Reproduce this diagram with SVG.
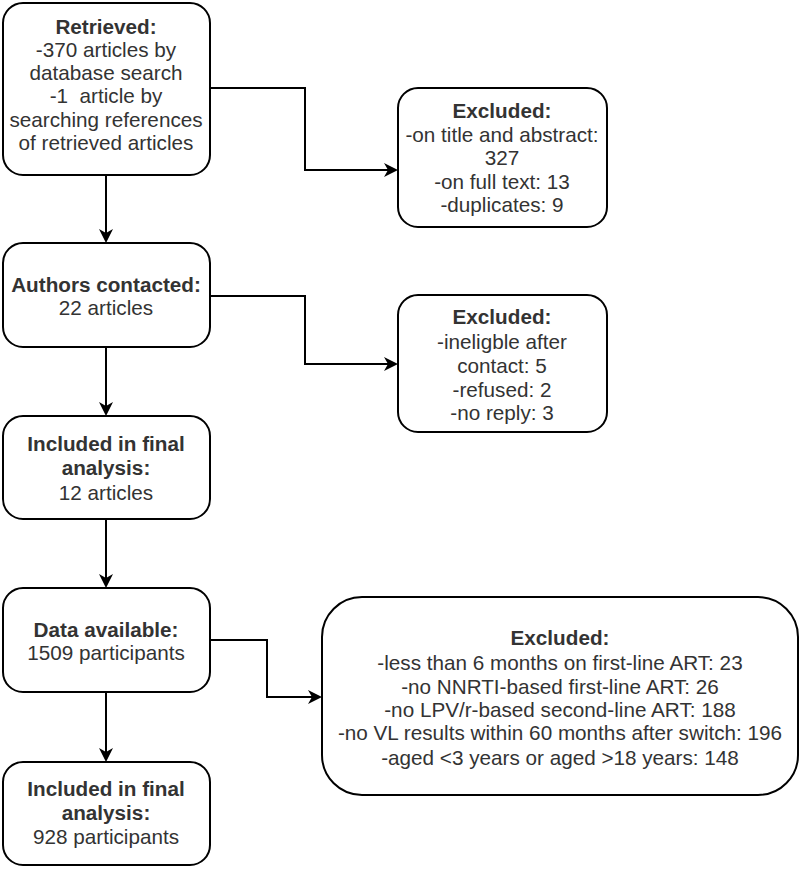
<svg xmlns="http://www.w3.org/2000/svg" width="800" height="869" viewBox="0 0 800 869">
<style>
.box{fill:#fff;stroke:#000;stroke-width:2}
.t{font-family:"Liberation Sans",Arial,sans-serif;font-size:20.7px;fill:#333;text-anchor:middle}
.b{font-weight:bold}
.c{fill:none;stroke:#000;stroke-width:2}
</style>
<defs>
<marker id="ah" markerWidth="14" markerHeight="14" refX="12" refY="7" orient="auto" markerUnits="userSpaceOnUse">
<path d="M0,0 L14,7 L0,14 L4,7 Z" fill="#000"/>
</marker>
</defs>
<rect width="800" height="869" fill="#fff"/>
<g id="connectors">
<path class="c" d="M106,175 V241" marker-end="url(#ah)"/>
<path class="c" d="M210,88 H305 V170 H396" marker-end="url(#ah)"/>
<path class="c" d="M106,347 V414" marker-end="url(#ah)"/>
<path class="c" d="M210,296 H305 V364 H396" marker-end="url(#ah)"/>
<path class="c" d="M106,519 V586" marker-end="url(#ah)"/>
<path class="c" d="M106,692 V760" marker-end="url(#ah)"/>
<path class="c" d="M210,640 H267 V697 H320" marker-end="url(#ah)"/>
</g>
<g id="retrieved">
<rect class="box" x="3" y="3" width="207" height="172" rx="20"/>
<text class="t b" x="106" y="34">Retrieved:</text>
<text class="t" x="106" y="57">-370 articles by</text>
<text class="t" x="106" y="80">database search</text>
<text class="t" x="106" y="103" xml:space="preserve">-1  article by</text>
<text class="t" x="106" y="127">searching references</text>
<text class="t" x="106" y="150">of retrieved articles</text>
</g>
<g id="excluded1">
<rect class="box" x="398" y="88" width="209" height="139" rx="20"/>
<text class="t b" x="502" y="118">Excluded:</text>
<text class="t" x="502" y="142">-on title and abstract:</text>
<text class="t" x="502" y="165">327</text>
<text class="t" x="502" y="189">-on full text: 13</text>
<text class="t" x="502" y="212">-duplicates: 9</text>
</g>
<g id="authors">
<rect class="box" x="3" y="243" width="207" height="104" rx="20"/>
<text class="t b" x="106" y="292">Authors contacted:</text>
<text class="t" x="106" y="315">22 articles</text>
</g>
<g id="excluded2">
<rect class="box" x="398" y="295" width="209" height="137" rx="20"/>
<text class="t b" x="502" y="324">Excluded:</text>
<text class="t" x="502" y="349">-ineligble after</text>
<text class="t" x="502" y="373">contact: 5</text>
<text class="t" x="502" y="397">-refused: 2</text>
<text class="t" x="502" y="420">-no reply: 3</text>
</g>
<g id="included1">
<rect class="box" x="3" y="416" width="207" height="103" rx="20"/>
<text class="t b" x="106" y="451">Included in final</text>
<text class="t b" x="106" y="475">analysis:</text>
<text class="t" x="106" y="500">12 articles</text>
</g>
<g id="data">
<rect class="box" x="3" y="588" width="207" height="104" rx="20"/>
<text class="t b" x="106" y="637">Data available:</text>
<text class="t" x="106" y="660">1509 participants</text>
</g>
<g id="excluded3">
<rect class="box" x="322" y="597" width="476" height="198" rx="40"/>
<text class="t b" x="560" y="645">Excluded:</text>
<text class="t" x="560" y="670">-less than 6 months on first-line ART: 23</text>
<text class="t" x="560" y="694">-no NNRTI-based first-line ART: 26</text>
<text class="t" x="560" y="717">-no LPV/r-based second-line ART: 188</text>
<text class="t" x="560" y="740">-no VL results within 60 months after switch: 196</text>
<text class="t" x="560" y="765">-aged &lt;3 years or aged &gt;18 years: 148</text>
</g>
<g id="included2">
<rect class="box" x="3" y="762" width="207" height="103" rx="20"/>
<text class="t b" x="106" y="796">Included in final</text>
<text class="t b" x="106" y="820">analysis:</text>
<text class="t" x="106" y="844">928 participants</text>
</g>
</svg>
